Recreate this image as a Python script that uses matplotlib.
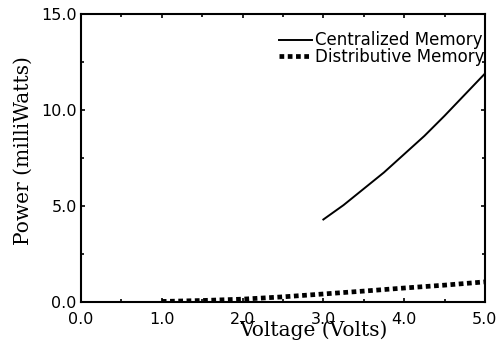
import matplotlib
matplotlib.use("Agg")
import matplotlib.pyplot as plt
from matplotlib.ticker import MultipleLocator, FormatStrFormatter
from matplotlib import rcParams

rcParams['font.family'] = 'DejaVu Sans'
rcParams['font.size'] = 11.5

# --- Data ---
v_central = [3.0, 3.25, 3.5, 3.75, 4.0, 4.25, 4.5, 4.75, 5.0]
p_central = [4.3, 5.05, 5.9, 6.75, 7.7, 8.65, 9.7, 10.8, 11.9]

v_distrib = [1.0, 1.5, 2.0, 2.5, 3.0, 3.5, 4.0, 4.5, 5.0]
p_distrib = [0.03, 0.08, 0.15, 0.27, 0.42, 0.57, 0.73, 0.88, 1.05]

labels = ["Centralized Memory", "Distributive Memory"]

# --- Plot ---
fig = plt.figure(figsize=(4.98, 3.44), dpi=100)
ax = fig.add_axes([0.1627, 0.122, 0.811, 0.837])

ax.plot(v_central, p_central, color='black', linewidth=1.4, label=labels[0])
ax.plot(v_distrib, p_distrib, color='black', linewidth=3.4,
        linestyle=(0, (1.0, 0.75)), dash_capstyle='butt', label=labels[1])

ax.set_xlim(0, 5)
ax.set_ylim(0, 15)
ax.xaxis.set_major_locator(MultipleLocator(1.0))
ax.xaxis.set_minor_locator(MultipleLocator(0.5))
ax.yaxis.set_major_locator(MultipleLocator(5.0))
ax.yaxis.set_minor_locator(MultipleLocator(2.5))
ax.xaxis.set_major_formatter(FormatStrFormatter('%.1f'))
ax.yaxis.set_major_formatter(FormatStrFormatter('%.1f'))

for s in ax.spines.values():
    s.set_linewidth(1.5)
ax.tick_params(which='both', direction='in', top=True, right=True, width=1.2)
ax.tick_params(which='major', length=3)
ax.tick_params(which='minor', length=2)
ax.tick_params(axis='x', pad=7)
ax.tick_params(axis='y', pad=3)

ax.legend(loc='upper right', bbox_to_anchor=(1.0, 0.94), frameon=False,
          fontsize=12, handlelength=2.0, handletextpad=0.2,
          labelspacing=-0.1, borderaxespad=0.0, borderpad=0.0)

fig.text(0.63, 0.04, "Voltage (Volts)", family='DejaVu Serif', fontsize=14.5,
         ha='center', va='center')
fig.text(0.046, 0.561, "Power (milliWatts)", family='DejaVu Serif', fontsize=14.5,
         ha='center', va='center', rotation=90)

fig.savefig("out.png", dpi=100)
